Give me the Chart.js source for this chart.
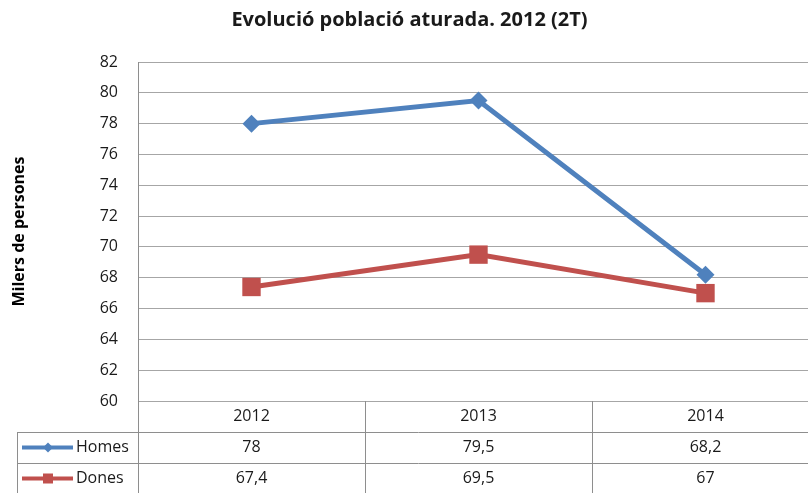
<!DOCTYPE html>
<html>
<head>
<meta charset="utf-8">
<script src="https://cdn.jsdelivr.net/npm/chart.js@4.4.1/dist/chart.umd.min.js"></script>
<style>
  html, body { margin: 0; padding: 0; background: #fff; overflow: hidden; }
  #caixa { width: 820px; height: 493px; position: relative; }
</style>
</head>
<body>
<div id="caixa"><canvas id="grafic" width="820" height="493"></canvas></div>
<script>
// Dades del gràfic
var anys = ['2012', '2013', '2014'];
var homes = [78, 79.5, 68.2];
var dones = [67.4, 69.5, 67];
var nomsSeries = ['Homes', 'Dones'];

var blau = '#4F81BD';
var vermell = '#C0504D';
var lletra = "'Open Sans', sans-serif";

function formatCa(v) {
    return String(v).replace('.', ',');
}

// taula de dades sota el gràfic
var taulaDades = {
    id: 'taulaDades',
    afterDraw: function (chart) {
        var ctx = chart.ctx;
        var area = chart.chartArea;
        var x = chart.scales.x;
        var top = area.bottom;
        var alt = 31;
        var esq = 17;
        var baix = chart.height;

        var vores = [area.left];
        for (var i = 0; i < anys.length - 1; i++) {
            vores.push((x.getPixelForValue(i) + x.getPixelForValue(i + 1)) / 2);
        }
        vores.push(area.right);

        ctx.save();
        ctx.strokeStyle = '#8e8e8e';
        ctx.lineWidth = 1;
        ctx.beginPath();
        // horitzontals
        ctx.moveTo(esq, Math.round(top + alt) + 0.5);
        ctx.lineTo(chart.width, Math.round(top + alt) + 0.5);
        ctx.moveTo(esq, Math.round(top + 2 * alt) + 0.5);
        ctx.lineTo(chart.width, Math.round(top + 2 * alt) + 0.5);
        // verticals
        ctx.moveTo(esq + 0.5, top + alt);
        ctx.lineTo(esq + 0.5, baix);
        for (var j = 0; j < vores.length; j++) {
            var vx = Math.round(vores[j]) + 0.5;
            ctx.moveTo(vx, top);
            ctx.lineTo(vx, baix);
        }
        ctx.stroke();

        ctx.fillStyle = '#1a1a1a';
        ctx.font = '16px ' + lletra;
        ctx.textBaseline = 'middle';
        ctx.textAlign = 'center';
        for (var k = 0; k < anys.length; k++) {
            var cx = x.getPixelForValue(k);
            ctx.fillText(anys[k], cx, top + alt / 2);
            ctx.fillText(formatCa(homes[k]), cx, top + alt * 1.5);
            ctx.fillText(formatCa(dones[k]), cx, top + alt * 2.5);
        }

        // claus de llegenda
        var colors = [blau, vermell];
        for (var s = 0; s < nomsSeries.length; s++) {
            var cy = top + alt * (1.5 + s);
            ctx.strokeStyle = colors[s];
            ctx.fillStyle = colors[s];
            ctx.lineWidth = 4;
            ctx.beginPath();
            ctx.moveTo(22, cy);
            ctx.lineTo(73, cy);
            ctx.stroke();
            ctx.beginPath();
            if (s === 0) {
                ctx.moveTo(48, cy - 5);
                ctx.lineTo(53, cy);
                ctx.lineTo(48, cy + 5);
                ctx.lineTo(43, cy);
                ctx.closePath();
            } else {
                ctx.rect(43, cy - 5, 10, 10);
            }
            ctx.fill();
            ctx.fillStyle = '#1a1a1a';
            ctx.textAlign = 'left';
            ctx.fillText(nomsSeries[s], 76, cy);
        }
        ctx.restore();
    }
};

var ctx = document.getElementById('grafic').getContext('2d');

var grafic = new Chart(ctx, {
    type: 'line',
    data: {
        labels: anys,
        datasets: [{
            label: nomsSeries[0],
            data: homes,
            borderColor: blau,
            backgroundColor: blau,
            borderWidth: 5,
            pointStyle: 'rectRot',
            pointRadius: 9,
            pointBorderWidth: 0,
            tension: 0
        }, {
            label: nomsSeries[1],
            data: dones,
            borderColor: vermell,
            backgroundColor: vermell,
            borderWidth: 5,
            pointStyle: 'rect',
            pointRadius: 13,
            pointBorderWidth: 0,
            tension: 0
        }]
    },
    options: {
        responsive: false,
        animation: false,
        layout: {
            autoPadding: false,
            padding: { top: 0, right: 1, bottom: 92, left: 0 }
        },
        plugins: {
            legend: { display: false },
            tooltip: { enabled: false },
            title: {
                display: true,
                text: 'Evolució població aturada. 2012 (2T)',
                color: '#1a1a1a',
                font: { family: lletra, size: 20, weight: 'bold' },
                padding: { top: 8, bottom: 30 }
            }
        },
        scales: {
            x: {
                display: false,
                offset: true
            },
            y: {
                min: 60,
                max: 82,
                ticks: {
                    stepSize: 2,
                    padding: 20,
                    color: '#1a1a1a',
                    font: { family: lletra, size: 16 }
                },
                grid: {
                    color: '#a6a6a6',
                    drawTicks: false
                },
                border: { color: '#8e8e8e' },
                title: {
                    display: true,
                    text: 'Milers de persones',
                    color: '#000',
                    font: { family: lletra, size: 16, weight: 'bold' },
                    padding: { top: 10, bottom: 0 }
                },
                afterFit: function (scale) {
                    scale.width = 138;
                }
            }
        }
    },
    plugins: [taulaDades]
});
</script>
</body>
</html>
